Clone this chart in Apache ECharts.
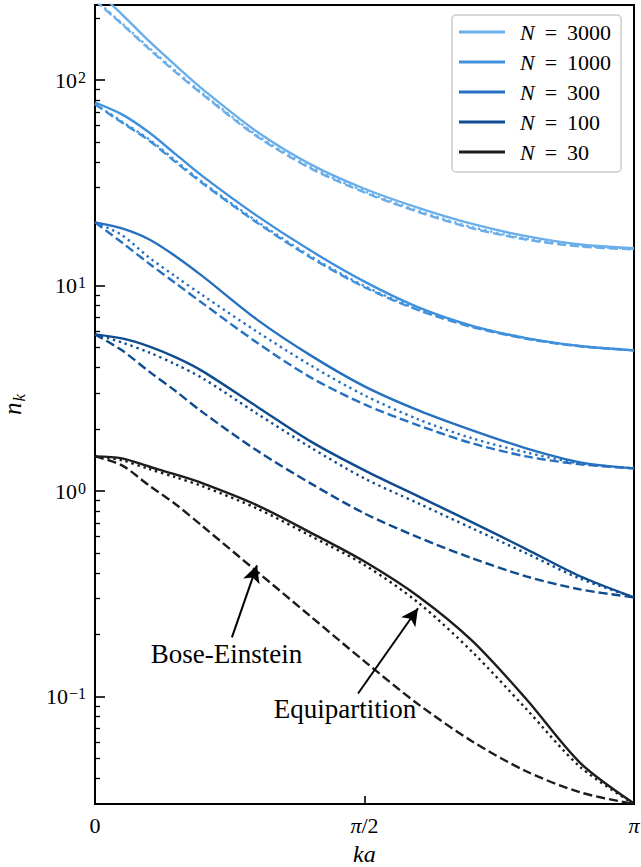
<!DOCTYPE html>
<html><head><meta charset="utf-8">
<script src="https://cdn.jsdelivr.net/npm/echarts@6/dist/echarts.min.js"></script>
<style>html,body{margin:0;padding:0;background:#fff}#c{width:641px;height:867px}</style>
</head><body><div id="c"></div>
<script>
// ---- data (ka in units of pi) ----
const kaOverPi = [0, 0.05, 0.1, 0.15, 0.2, 0.3, 0.4, 0.5, 0.6, 0.7, 0.8, 0.9, 1.0];

const n3000Sim  = [277, 209, 155, 117.5, 90.2, 56.2, 38.9, 29.6, 23.9, 19.95, 17.4, 15.85, 15.2];
const n3000Equi = [247, 189, 144, 110.5, 86.0, 54.0, 37.7, 28.8, 23.1, 19.25, 16.95, 15.65, 15.1];
const n3000BE   = [244, 187, 142, 109, 85.0, 53.3, 37.2, 28.4, 22.8, 19.0, 16.75, 15.5, 15.0];

const n1000Sim  = [77.8, 68.1, 55.7, 43.5, 34.0, 21.9, 14.8, 10.45, 7.83, 6.37, 5.55, 5.08, 4.84];
const n1000Equi = [76.6, 62.8, 51.6, 40.5, 31.8, 20.6, 13.9, 9.95, 7.67, 6.34, 5.55, 5.08, 4.84];
const n1000BE   = [76.2, 62.2, 50.9, 39.8, 31.4, 20.3, 13.7, 9.82, 7.59, 6.28, 5.51, 5.06, 4.84];

const n300Sim  = [20.3, 18.97, 16.8, 13.87, 11.09, 6.85, 4.575, 3.233, 2.470, 1.974, 1.614, 1.380, 1.290];
const n300Equi = [20.3, 17.6, 13.72, 11.05, 8.96, 5.98, 4.09, 2.922, 2.233, 1.805, 1.543, 1.364, 1.290];
const n300BE   = [20.3, 16.2, 12.82, 10.25, 8.19, 5.29, 3.575, 2.642, 2.088, 1.707, 1.475, 1.349, 1.290];

const n100Sim  = [5.79, 5.53, 5.06, 4.47, 3.824, 2.583, 1.745, 1.261, 0.942, 0.704, 0.522, 0.385, 0.304];
const n100Equi = [5.79, 5.29, 4.73, 4.135, 3.535, 2.387, 1.631, 1.152, 0.871, 0.658, 0.498, 0.375, 0.304];
const n100BE   = [5.79, 4.84, 3.824, 3.06, 2.415, 1.578, 1.090, 0.779, 0.595, 0.471, 0.3845, 0.3323, 0.304];

const n30Sim  = [1.475, 1.443, 1.317, 1.203, 1.090, 0.855, 0.628, 0.454, 0.307, 0.1866, 0.0973, 0.0476, 0.0302];
const n30Equi = [1.475, 1.411, 1.282, 1.166, 1.054, 0.824, 0.605, 0.437, 0.286, 0.1648, 0.0871, 0.0455, 0.0300];
const n30BE   = [1.475, 1.334, 1.066, 0.861, 0.673, 0.4067, 0.2456, 0.1484, 0.0916, 0.0605, 0.0433, 0.0342, 0.0300];

const seriesNames = ['N = 3000', 'N = 1000', 'N = 300', 'N = 100', 'N = 30'];
const simSets  = [n3000Sim, n1000Sim, n300Sim, n100Sim, n30Sim];
const equiSets = [n3000Equi, n1000Equi, n300Equi, n100Equi, n30Equi];
const beSets   = [n3000BE, n1000BE, n300BE, n100BE, n30BE];

const yMajorTicks = [0.1, 1, 10, 100];
const xTickOverPi = [0, 0.5, 1];
const xTickLabels = ['0', '{i|π}/2', '{i|π}'];
const xAxisTitle = 'ka';

// annotations: [text, text ka/pi, text n, arrow start ka/pi, start n, tip ka/pi, tip n]
const annoBE   = ['Bose-Einstein', 0.244, 0.162, 0.254, 0.194, 0.3005, 0.435];
const annoEqui = ['Equipartition', 0.4638, 0.0867, 0.488, 0.1035, 0.5993, 0.269];

// ---- styles ----
const colors = ['#6aaeea', '#3f91dd', '#2570c0', '#0e4b8f', '#1c1c1c'];
const F = '"Liberation Serif", "DejaVu Serif", serif';
const yMin = 0.03, yMax = 232;
const LW = 2.4;

const PI = Math.PI;
const ka = kaOverPi.map(f => f * PI);
const pts = arr => arr.map((v, i) => [ka[i], v]);

const series = [];
for (let i = 0; i < 5; i++) {
  const base = {type: 'line', showSymbol: false, smooth: 0.3,
    animation: false, silent: true, clip: true};
  series.push(Object.assign({}, base, {name: seriesNames[i] + ' BE', data: pts(beSets[i]),
    itemStyle: {color: colors[i]}, lineStyle: {color: colors[i], width: LW, type: [9, 4], cap: 'butt'}}));
  series.push(Object.assign({}, base, {name: seriesNames[i] + ' Equi', data: pts(equiSets[i]),
    itemStyle: {color: colors[i]}, lineStyle: {color: colors[i], width: LW, type: [2.4, 3.8], cap: 'butt'}}));
  series.push(Object.assign({}, base, {name: seriesNames[i], data: pts(simSets[i]),
    itemStyle: {color: colors[i]}, lineStyle: {color: colors[i], width: LW, type: 'solid'}}));
}
// annotations on an empty helper series
series.push({
  type: 'line', data: [], silent: true, animation: false,
  markLine: {
    silent: true, animation: false, symbol: ['none', 'arrow'], symbolSize: [13, 17],
    lineStyle: {color: '#000', width: 2, type: 'solid'}, label: {show: false},
    data: [annoBE, annoEqui].map(a => [{coord: [a[3] * PI, a[4]]}, {coord: [a[5] * PI, a[6]]}])
  },
  markPoint: {
    silent: true, animation: false, symbol: 'circle', symbolSize: 0,
    label: {show: true, position: 'inside', color: '#000', fontSize: 27, fontFamily: F},
    data: [annoBE, annoEqui].map(a => ({coord: [a[1] * PI, a[2]], value: a[0], label: {formatter: a[0]}}))
  }
});

const minorTicks = [];
for (let e = -2; e <= 2; e++) for (let m = 2; m <= 9; m++) {
  const v = m * Math.pow(10, e);
  if (v > yMin && v < yMax) minorTicks.push(+v.toPrecision(3));
}

const gridRect = {left: 95, right: 7, top: 5, bottom: 63, containLabel: false, outerBoundsMode: 'none'};
const chart = echarts.init(document.getElementById('c'), null, {renderer: 'svg'});
chart.setOption({
  animation: false,
  backgroundColor: '#fff',
  title: {
    text: xAxisTitle, left: 353, top: 842, padding: 0,
    textStyle: {fontFamily: F, fontSize: 24, fontStyle: 'italic', fontWeight: 'normal', color: '#000', lineHeight: 24}
  },
  grid: [
    Object.assign({show: true, borderColor: '#000', borderWidth: 2, backgroundColor: 'transparent'}, gridRect),
    Object.assign({show: false}, gridRect)
  ],
  legend: {
    data: seriesNames, orient: 'vertical', left: 452, top: 15, selectedMode: false,
    icon: 'rect', itemWidth: 46, itemHeight: 3, itemGap: 8,
    padding: [6, 10, 9, 7], borderColor: '#cccccc', borderWidth: 1.5, borderRadius: 4,
    backgroundColor: 'rgba(255,255,255,0.8)',
    formatter: name => '{g| }{i|N}{e|=}{n|' + name.split('= ')[1] + '}',
    textStyle: {color: '#000', fontFamily: F, fontSize: 22, lineHeight: 22,
      rich: {
        g: {width: 10},
        i: {fontStyle: 'italic', fontSize: 22, fontFamily: F},
        e: {fontSize: 22, fontFamily: F, padding: [0, 10, 0, 10]},
        n: {fontSize: 22, fontFamily: F}
      }}
  },
  xAxis: [{
    gridIndex: 0, type: 'value', min: 0, max: PI, interval: PI / 2,
    axisLine: {show: true, lineStyle: {color: '#000', width: 2}},
    axisTick: {show: true, inside: true, length: 8, lineStyle: {color: '#000', width: 1.6},
      customValues: xTickOverPi.map(f => f * PI)},
    axisLabel: {show: true, margin: 10, color: '#000', fontFamily: F, fontSize: 22,
      customValues: xTickOverPi.map(f => f * PI),
      formatter: v => { const idx = xTickOverPi.findIndex(f => Math.abs(f * PI - v) < 1e-6); return idx >= 0 ? xTickLabels[idx] : ''; },
      rich: {i: {fontStyle: 'italic', fontSize: 22, fontFamily: F}}},
    splitLine: {show: false}
  }, {
    gridIndex: 1, type: 'value', min: 0, max: PI, show: false
  }],
  yAxis: [{
    gridIndex: 0, type: 'log', logBase: 10, min: yMin, max: yMax,
    name: '{i|n}{sub|k}', nameLocation: 'middle', nameRotate: 90, nameGap: 70, nameMoveOverlap: false,
    nameTextStyle: {color: '#000', rich: {
      i: {fontStyle: 'italic', fontSize: 25, fontFamily: F, lineHeight: 25, verticalAlign: 'top'},
      sub: {fontStyle: 'italic', fontSize: 17, fontFamily: F, lineHeight: 17, verticalAlign: 'top', padding: [11, 0, 0, 1]}
    }},
    axisLine: {show: true, lineStyle: {color: '#000', width: 2}},
    axisTick: {show: true, inside: true, length: 10, lineStyle: {color: '#000', width: 1.6}, customValues: yMajorTicks},
    axisLabel: {show: true, margin: 9, color: '#000', customValues: yMajorTicks,
      formatter: v => { const e = Math.round(Math.log10(v)); return '{b|10}{s|' + (e < 0 ? '\u2212' + (-e) : e) + '}'; },
      rich: {
        b: {fontSize: 22, fontFamily: F, lineHeight: 22, verticalAlign: 'bottom'},
        s: {fontSize: 16, fontFamily: F, lineHeight: 16, verticalAlign: 'top', padding: [0, 0, 10, 1]}
      }},
    splitLine: {show: false}, minorTick: {show: false}
  }, {
    gridIndex: 1, type: 'log', logBase: 10, min: yMin, max: yMax, position: 'left',
    axisLine: {show: false}, axisLabel: {show: false}, splitLine: {show: false},
    axisTick: {show: true, inside: true, length: 5, lineStyle: {color: '#000', width: 1.3}, customValues: minorTicks}
  }],
  series: series
});
</script>
</body></html>
